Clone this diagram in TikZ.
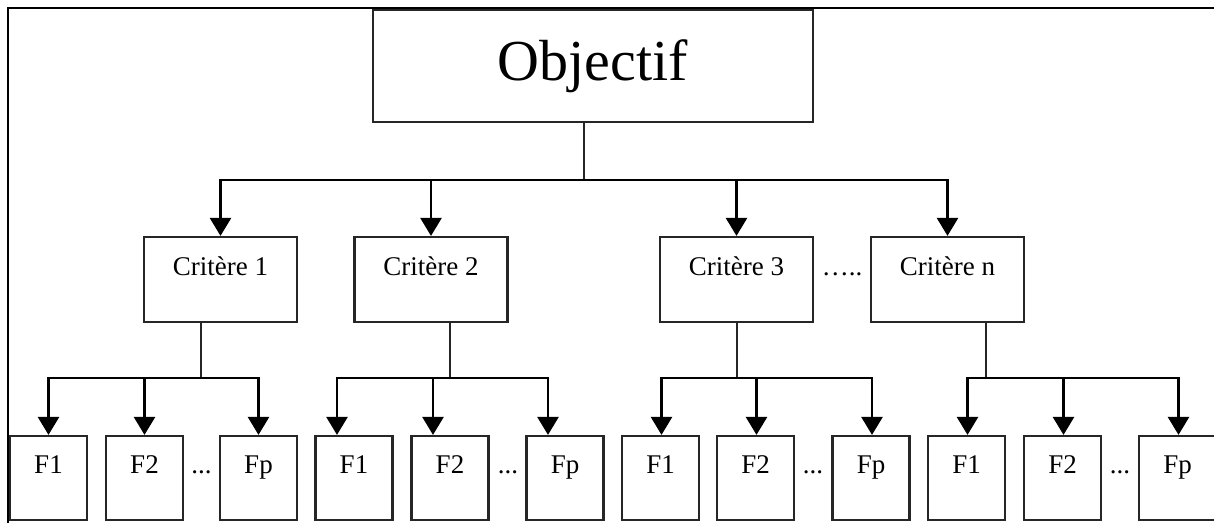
\documentclass[tikz,border=0pt]{standalone}
\usepackage{fontspec}
\setmainfont{Liberation Serif}
\usetikzlibrary{arrows.meta, calc}
\tikzset{
	frame/.style={line width=2.6pt, black},
	objbox/.style={draw=black!85, line width=2.2pt, inner sep=0pt, minimum width=440pt,
		text height=70pt, text depth=42pt, font=\fontsize{58}{70}\selectfont},
	critbox/.style={draw=black!85, line width=2.2pt, inner sep=0pt, minimum width=153pt,
		text height=38pt, text depth=47pt, font=\fontsize{27}{32}\selectfont},
	fbox/.style={draw=black!85, line width=2.2pt, inner sep=0pt, minimum width=77pt,
		text height=37pt, text depth=47pt, font=\fontsize{27}{32}\selectfont},
	dotsf/.style={inner sep=0pt, anchor=base, font=\fontsize{27}{32}\selectfont},
	link/.style={line width=2.2pt, black!85},
	arr/.style={line width=2.6pt, black, -{Triangle[width=21pt,length=18pt]}},
}

\begin{document}
\begin{tikzpicture}[x=1pt, y=-1pt]%[show background grid]
	\useasboundingbox (0,0) rectangle (1214,522);
	% outer frame, cut at the right and at the bottom
	\draw[frame] (8,530) -- (8,8) -- (1220,8);

	\node[objbox] (obj) at (593,66) {Objectif};

	\foreach \i/\x/\t in {1/220.5/1, 2/431/2, 3/736.5/3, 4/947.5/n}
		\node[critbox] (c\i) at (\x,279.5) {Crit\`ere \t};
	\node[dotsf] (cdots) at (842,275) {…..};

	% one group of F boxes under each criterion
	\foreach \g/\xa/\xb/\xc/\xd in {1/48.5/144.5/258.5/201.5, 2/354/450/565/508,
		3/660.5/755.5/871/813, 4/966.5/1062.5/1177.5/1120} {
		\node[fbox] (f\g1) at (\xa,478) {F1};
		\node[fbox] (f\g2) at (\xb,478) {F2};
		\node[fbox] (f\g3) at (\xc,478) {Fp};
		\node[dotsf] (d\g) at (\xd,473) {...};
	}

	% objective -> criteria
	\coordinate (top) at (584,180);
	\draw[link] (obj.south -| top) -- (top);
	\foreach \i in {1,...,4}
		\draw[arr] (top) -| (c\i.north);

	% criteria -> F boxes
	\foreach \g/\sx/\dx in {1/201/0pt, 2/450/-17pt, 3/737/1pt, 4/986/1pt} {
		\coordinate (b\g) at (\sx,378);
		\draw[link] (c\g.south -| b\g) -- (b\g);
		\foreach \f in {1,2,3}
			\draw[arr] (b\g) -| ([xshift=\dx]f\g\f.north);
	}
\end{tikzpicture}
\end{document}
